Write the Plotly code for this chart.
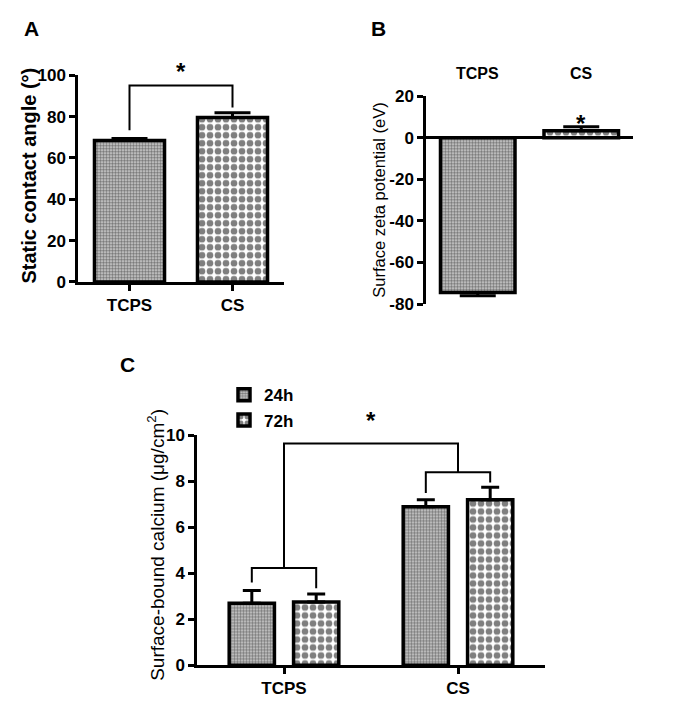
import plotly.graph_objects as go

# ---------------- data ----------------
groups = ["TCPS", "CS"]

# Panel A: static contact angle (deg)
A_values = [68.4, 79.6]
A_err = [1.0, 2.3]

# Panel B: surface zeta potential (eV)
B_values = [-74.5, 3.4]
B_err_minus = [1.5, 0.0]
B_err_plus = [0.0, 1.9]

# Panel C: surface-bound calcium (ug/cm2)
series_names = ["24h", "72h"]
C_24h = [2.7, 6.9]
C_24h_err = [0.55, 0.3]
C_72h = [2.75, 7.2]
C_72h_err = [0.35, 0.55]

A_ticks = [0, 20, 40, 60, 80, 100]
B_ticks = [-80, -60, -40, -20, 0, 20]
C_ticks = [0, 2, 4, 6, 8, 10]

FONT = "Arial, Liberation Sans, sans-serif"
W, H = 685, 712


def px_x(x):
    return x / W


def px_y(y):
    # vertical placement (pixels from top) -> paper fraction
    return 1 - ((y - 11) / 0.97) / H


fine = dict(shape=".", size=3, solidity=0.6, fgcolor="#111111", bgcolor="#d8d8d8", fillmode="overlay")
checker = dict(shape=".", size=8, solidity=0.55, fgcolor="black", bgcolor="white", fillmode="overlay")

pos = list(range(len(groups)))
fig = go.Figure()

# ---- Panel A ----
for i, (v, e) in enumerate(zip(A_values, A_err)):
    fig.add_trace(go.Bar(
        x=[pos[i]], y=[v], width=0.68, xaxis="x", yaxis="y", showlegend=False,
        marker=dict(color="white", line=dict(color="black", width=3.5),
                    pattern=fine if i == 0 else checker),
        error_y=dict(type="data", array=[e], arrayminus=[0], color="black", thickness=3, width=18),
    ))

# ---- Panel B ----
for i, v in enumerate(B_values):
    fig.add_trace(go.Bar(
        x=[pos[i]], y=[v], width=0.72, xaxis="x2", yaxis="y2", showlegend=False,
        marker=dict(color="white", line=dict(color="black", width=3.5),
                    pattern=fine if i == 0 else checker),
        error_y=dict(type="data", array=[B_err_plus[i]], arrayminus=[B_err_minus[i]],
                     color="black", thickness=3, width=18),
    ))

# ---- Panel C ----
shift = 0.185
fig.add_trace(go.Bar(
    x=[p - shift for p in pos], y=C_24h, width=0.26, xaxis="x3", yaxis="y3", name=series_names[0],
    marker=dict(color="white", line=dict(color="black", width=3.5), pattern=fine),
    error_y=dict(type="data", array=C_24h_err, arrayminus=[0, 0], color="black", thickness=3, width=9),
))
fig.add_trace(go.Bar(
    x=[p + shift for p in pos], y=C_72h, width=0.26, xaxis="x3", yaxis="y3", name=series_names[1],
    marker=dict(color="white", line=dict(color="black", width=3.5), pattern=checker),
    error_y=dict(type="data", array=C_72h_err, arrayminus=[0, 0], color="black", thickness=3, width=9),
))

axis_common = dict(showgrid=False, showline=True, linecolor="black", linewidth=2.5,
                   ticks="outside", ticklen=6, tickwidth=2.5, tickcolor="black",
                   tickfont=dict(family=FONT, size=17, color="black", weight="bold"))

fig.update_layout(
    width=W, height=H, margin=dict(l=0, r=0, t=0, b=0),
    paper_bgcolor="white", plot_bgcolor="white", barmode="overlay",
    font=dict(family=FONT, color="black"),
    xaxis=dict(domain=[px_x(78), px_x(284)], range=[-0.5, 1.5], tickvals=pos, ticktext=groups,
               anchor="y", zeroline=False, **axis_common),
    yaxis=dict(domain=[px_y(283), px_y(77)], range=[0, 100], tickvals=A_ticks,
               ticktext=[str(t) for t in A_ticks], anchor="x", zeroline=False, **axis_common),
    xaxis2=dict(domain=[px_x(426), px_x(633)], range=[-0.5, 1.5], anchor="y2",
                showgrid=False, zeroline=False, showline=False, showticklabels=False, ticks=""),
    yaxis2=dict(domain=[px_y(305), px_y(98)], range=[-80, 20], tickvals=B_ticks,
                ticktext=[str(t) for t in B_ticks],
                anchor="x2", zeroline=True, zerolinecolor="black", zerolinewidth=2.5, **axis_common),
    xaxis3=dict(domain=[px_x(197), px_x(545)], range=[-0.5, 1.5], tickvals=pos, ticktext=groups,
                anchor="y3", zeroline=False, **axis_common),
    yaxis3=dict(domain=[px_y(665), px_y(436)], range=[0, 10], tickvals=C_ticks,
                ticktext=[str(t) for t in C_ticks], anchor="x3", zeroline=False, **axis_common),
    legend=dict(x=px_x(224), y=px_y(378), xanchor="left", yanchor="top", bgcolor="rgba(0,0,0,0)",
                font=dict(family=FONT, size=17, color="black", weight="bold"), tracegroupgap=0),
)

shapes = []
# bracket A
A_br_top = 95
shapes.append(dict(type="path", xref="x", yref="y",
                   path=f"M {pos[0]},{A_values[0]+A_err[0]+4} L {pos[0]},{A_br_top} L {pos[1]},{A_br_top} L {pos[1]},{A_values[1]+A_err[1]+2.5}",
                   line=dict(color="black", width=2)))
# brackets C
C_tcps_br = 4.23
C_cs_br = 8.4
C_top_br = 9.65
shapes.append(dict(type="path", xref="x3", yref="y3",
                   path=f"M {pos[0]-shift},{C_24h[0]+C_24h_err[0]+0.35} L {pos[0]-shift},{C_tcps_br} L {pos[0]+shift},{C_tcps_br} L {pos[0]+shift},{C_72h[0]+C_72h_err[0]+0.25}",
                   line=dict(color="black", width=2)))
shapes.append(dict(type="path", xref="x3", yref="y3",
                   path=f"M {pos[1]-shift},{C_24h[1]+C_24h_err[1]+0.3} L {pos[1]-shift},{C_cs_br} L {pos[1]+shift},{C_cs_br} L {pos[1]+shift},{C_72h[1]+C_72h_err[1]+0.2}",
                   line=dict(color="black", width=2)))
shapes.append(dict(type="path", xref="x3", yref="y3",
                   path=f"M {pos[0]},{C_tcps_br} L {pos[0]},{C_top_br} L {pos[1]},{C_top_br} L {pos[1]},{C_cs_br}",
                   line=dict(color="black", width=2)))
fig.update_layout(shapes=shapes)

ann = []
def label(text, x, y, size, bold=True, angle=0):
    ann.append(dict(text=text, x=x, y=y, xref="paper", yref="paper", showarrow=False, textangle=angle,
                    xanchor="center", yanchor="middle",
                    font=dict(family=FONT, size=size, color="black", weight="bold" if bold else "normal")))

# panel letters
label("A", px_x(31), px_y(30), 21)
label("B", px_x(379), px_y(30), 21)
label("C", px_x(127), px_y(365), 21)
# axis titles
label("Static contact angle (°)", px_x(29), px_y(177), 20, angle=-90)
label("Surface zeta potential (eV)", px_x(379), px_y(201), 16.5, bold=False, angle=-90)
label("Surface-bound calcium (μg/cm<sup>2</sup>)", px_x(156), px_y(545), 19, bold=False, angle=-90)
# B category labels on top
for i, g in enumerate(groups):
    ann.append(dict(text=g, x=pos[i], y=px_y(75), xref="x2", yref="paper", showarrow=False,
                    xanchor="center", yanchor="middle",
                    font=dict(family=FONT, size=16, color="black", weight="bold")))
# stars
star_font = dict(family=FONT, size=24, color="black", weight="bold")
ann.append(dict(text="*", x=(pos[0]+pos[1])/2, y=px_y(58), xref="x", yref="paper", showarrow=False,
                font=star_font))
ann.append(dict(text="*", x=pos[1], y=px_y(110), xref="x2", yref="paper", showarrow=False,
                font=star_font))
ann.append(dict(text="*", x=(pos[0]+pos[1])/2, y=px_y(421), xref="x3", yref="paper", showarrow=False,
                font=star_font))
fig.update_layout(annotations=ann)

fig.write_html(
    "out.html",
    config={"displayModeBar": False},
    post_script=(
        "var gd=document.getElementById('{plot_id}');"
        "gd.style.position='fixed';gd.style.top='0px';gd.style.left='0px';"
        "document.body.style.margin='0';document.body.style.overflow='hidden';"
        "document.documentElement.style.overflow='hidden';"
    ),
)
